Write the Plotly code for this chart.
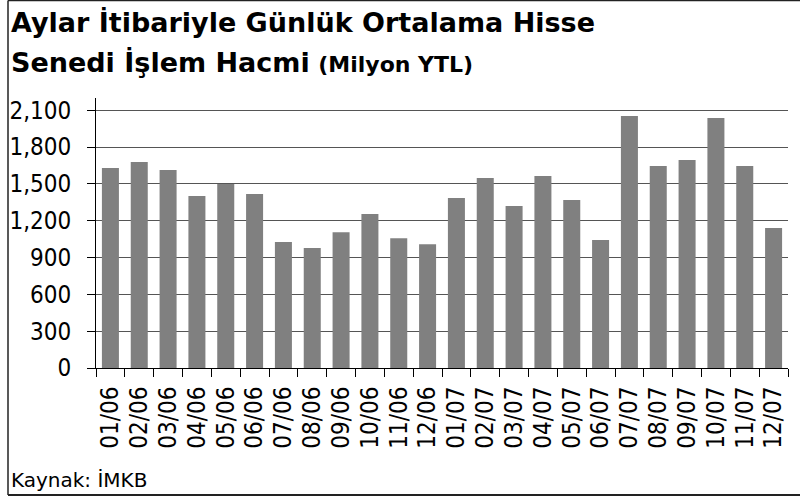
import plotly.graph_objects as go

months = ["01/06", "02/06", "03/06", "04/06", "05/06", "06/06", "07/06", "08/06",
          "09/06", "10/06", "11/06", "12/06", "01/07", "02/07", "03/07", "04/07",
          "05/07", "06/07", "07/07", "08/07", "09/07", "10/07", "11/07", "12/07"]
volume = [1629, 1678, 1613, 1401, 1499, 1417, 1026, 977, 1107, 1254, 1058, 1009,
          1385, 1548, 1319, 1564, 1368, 1042, 2053, 1646, 1695, 2037, 1646, 1140]
y_ticks = [0, 300, 600, 900, 1200, 1500, 1800, 2100]
y_tick_text = ["0", "300", "600", "900", "1,200", "1,500", "1,800", "2,100"]

FONT = "DejaVu Sans Condensed, DejaVu Sans, sans-serif"
FONT_W = "DejaVu Sans, sans-serif"

W, H = 800, 497
L, R, T, B = 96, 12, 98, 129
PW, PH = W - L - R, H - T - B


def px(x):
    return (x - L) / PW


def py(y):
    return (H - B - y) / PH


fig = go.Figure(go.Bar(
    x=months, y=volume, marker=dict(color="#808080", line=dict(width=0)),
    width=0.59,
))

fig.update_layout(
    width=W, height=H,
    margin=dict(l=L, r=R, t=T, b=B, autoexpand=False),
    paper_bgcolor="white", plot_bgcolor="white",
    showlegend=False,
    font=dict(family=FONT, size=24, color="black"),
    xaxis=dict(
        type="category", tickangle=-90, tickson="boundaries",
        tickmode="array", tickvals=months, ticktext=months,
        ticks="outside", ticklen=8, tickcolor="black", tickwidth=1,
        showline=True, linecolor="black", linewidth=1,
        showgrid=False, tickfont=dict(family=FONT, size=24),
        ticklabelstandoff=8, automargin=False,
    ),
    yaxis=dict(
        range=[0, 2200], tickvals=y_ticks, ticktext=y_tick_text,
        ticks="outside", ticklen=8, tickcolor="black", tickwidth=1,
        showline=True, linecolor="black", linewidth=1,
        showgrid=True, gridcolor="#555555", gridwidth=1,
        zeroline=False, tickfont=dict(family=FONT, size=24),
        ticklabelstandoff=11, automargin=False,
    ),
    annotations=[
        dict(xref="paper", yref="paper", x=px(9), y=py(22), xanchor="left", yanchor="middle",
             text="<b>Aylar İtibariyle Günlük Ortalama Hisse</b>", showarrow=False,
             font=dict(family=FONT_W, size=27, color="black")),
        dict(xref="paper", yref="paper", x=px(9), y=py(62), xanchor="left", yanchor="middle",
             text="<b>Senedi İşlem Hacmi</b> <b><span style='font-size:22px'>(Milyon YTL)</span></b>",
             showarrow=False, font=dict(family=FONT_W, size=27, color="black")),
        dict(xref="paper", yref="paper", x=px(9), y=py(480), xanchor="left", yanchor="middle",
             text="Kaynak: İMKB", showarrow=False,
             font=dict(family=FONT_W, size=20, color="black")),
    ],
    shapes=[
        dict(type="line", xref="paper", yref="paper", x0=px(8), x1=px(8), y0=py(0.5), y1=py(495),
             line=dict(color="#222222", width=1.5)),
        dict(type="line", xref="paper", yref="paper", x0=px(8), x1=px(800), y0=py(495), y1=py(495),
             line=dict(color="#222222", width=2)),
        dict(type="line", xref="paper", yref="paper", x0=px(8), x1=px(800), y0=py(0.5), y1=py(0.5),
             line=dict(color="#222222", width=1.5)),
    ],
)

fig.write_html("out.html", config={"displayModeBar": False},
               post_script="document.body.style.margin='0';")
